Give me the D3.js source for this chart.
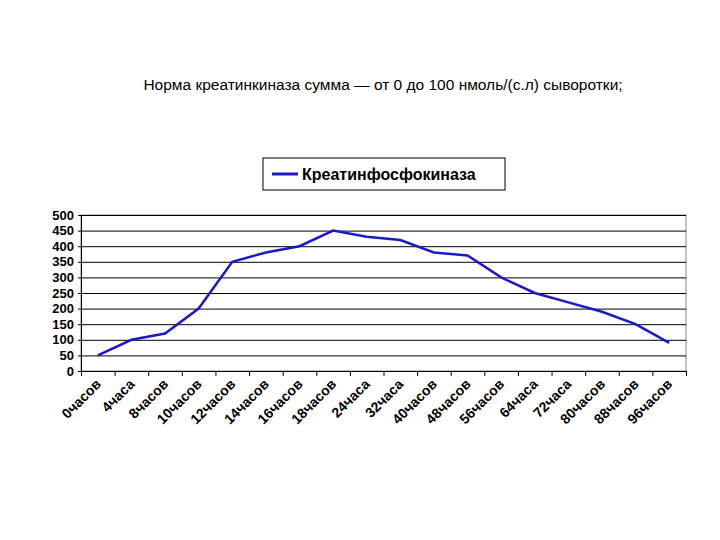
<html>
<head>
<script src="https://d3js.org/d3.v7.min.js"></script>
<style>body{margin:0;background:#fff}</style>
</head>
<body>
<script>
const categories = ['0часов','4часа','8часов','10часов','12часов','14часов','16часов','18часов','24часа','32часа','40часов','48часов','56часов','64часа','72часа','80часов','88часов','96часов'];
const values = [50,100,120,200,350,380,400,450,430,420,380,370,300,250,220,190,150,90];
const yTicks = [0,50,100,150,200,250,300,350,400,450,500];
const seriesName = 'Креатинфосфокиназа';

const svg = d3.select('body').append('svg').attr('width',720).attr('height',540);
const font = 'Liberation Sans, Arial, sans-serif';

svg.append('text').attr('x',383).attr('y',90).attr('text-anchor','middle')
  .attr('font-family',font).attr('font-size',15.5).text('Норма креатинкиназа сумма — от 0 до 100 нмоль/(с.л) сыворотки;');

// legend
svg.append('rect').attr('x',263).attr('y',158).attr('width',242).attr('height',32)
  .attr('fill','#fff').attr('stroke','#000');
svg.append('line').attr('x1',272).attr('x2',298).attr('y1',174).attr('y2',174)
  .attr('stroke','#1a1acc').attr('stroke-width',3);
svg.append('text').attr('x',302).attr('y',180).attr('font-family',font).attr('font-size',16)
  .attr('font-weight','bold').text(seriesName);

const pl = 81, pr = 686, pt = 215, pb = 371;
const x = d3.scaleBand().domain(categories).range([pl,pr]);
const y = d3.scaleLinear().domain([0,500]).range([pb,pt]);

svg.append('rect').attr('x',pl).attr('y',pt).attr('width',pr-pl).attr('height',pb-pt)
  .attr('fill','none').attr('stroke','#888');

svg.append('g').attr('transform',`translate(${pl},0)`)
  .call(d3.axisLeft(y).tickValues(yTicks).tickSize(-(pr-pl)).tickFormat(''))
  .call(g=>g.select('.domain').remove())
  .call(g=>g.selectAll('line').attr('stroke','#000'));

svg.append('g').attr('transform',`translate(${pl},0)`)
  .call(d3.axisLeft(y).tickValues(yTicks).tickSize(3).tickPadding(4))
  .call(g=>g.selectAll('text').attr('font-family',font).attr('font-size',13).attr('font-weight','bold'));

const xEdges = d3.scaleLinear().domain([0,categories.length]).range([pl,pr]);
svg.append('g').attr('transform',`translate(0,${pb})`)
  .call(d3.axisBottom(xEdges).ticks(categories.length).tickSize(5).tickFormat(''))
  .call(g=>g.select('.domain').attr('stroke','#000'));

svg.append('g').selectAll('text').data(categories).join('text')
  .attr('transform',d=>`translate(${x(d)+x.bandwidth()/2+4},${pb+14}) rotate(-45)`)
  .attr('text-anchor','end').attr('font-family',font).attr('font-size',14).attr('font-weight','bold')
  .text(d=>d);

svg.append('path').datum(values)
  .attr('d',d3.line().x((d,i)=>x(categories[i])+x.bandwidth()/2).y(d=>y(d)))
  .attr('fill','none').attr('stroke','#1a1acc').attr('stroke-width',2.5);
</script>
</body>
</html>
